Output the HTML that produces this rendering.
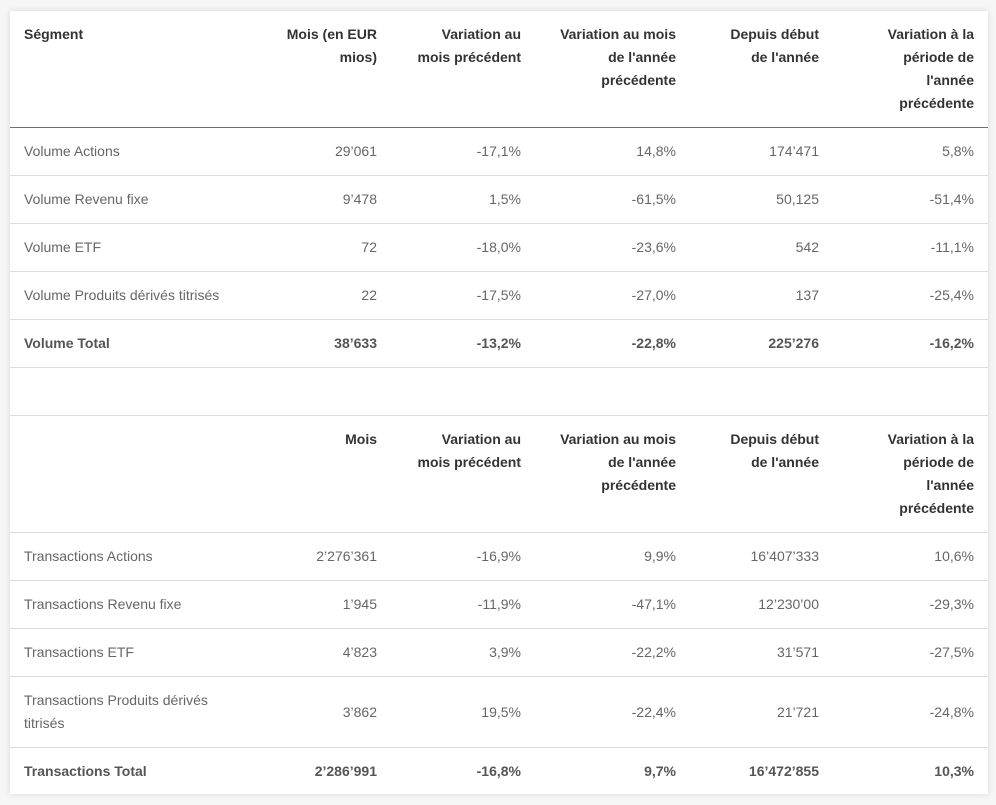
<!DOCTYPE html>
<html><head><meta charset="utf-8"><style>
html,body{margin:0;padding:0;background:#f6f6f6;width:996px;height:805px;overflow:hidden}
.card{position:absolute;left:10px;top:11px;width:978px;height:783px;background:#fff;box-shadow:0 0 6px rgba(0,0,0,0.12)}
table{border-collapse:collapse;table-layout:fixed;width:978px;font-family:"Liberation Sans",sans-serif;font-size:14px;color:#666}
td,th{padding:0 14px;text-align:right;vertical-align:middle;border-bottom:1px solid #ddd;line-height:23px}
td:first-child,th:first-child{text-align:left}
th{font-weight:bold;color:#333;vertical-align:top;padding-top:12px;height:104px;font-size:14px}
tr.h1 th{border-bottom:1px solid #b0583f !important}
tr.r td{height:47px}
tr.r2 td{height:70px}
tr.t td{font-weight:bold;color:#555}
</style></head><body>
<div class="card">
<table>
<colgroup><col style="width:240px"><col style="width:141px"><col style="width:144px"><col style="width:155px"><col style="width:143px"><col style="width:155px"></colgroup>
<tr class="h1"><th>Ségment</th><th>Mois (en EUR<br>mios)</th><th>Variation au<br>mois précédent</th><th>Variation au mois<br>de l'année<br>précédente</th><th>Depuis début<br>de l'année</th><th>Variation à la<br>période de<br>l'année<br>précédente</th></tr>
<tr class="r"><td>Volume Actions</td><td>29’061</td><td>-17,1%</td><td>14,8%</td><td>174’471</td><td>5,8%</td></tr>
<tr class="r"><td>Volume Revenu fixe</td><td>9’478</td><td>1,5%</td><td>-61,5%</td><td>50,125</td><td>-51,4%</td></tr>
<tr class="r"><td>Volume ETF</td><td>72</td><td>-18,0%</td><td>-23,6%</td><td>542</td><td>-11,1%</td></tr>
<tr class="r"><td>Volume Produits dérivés titrisés</td><td>22</td><td>-17,5%</td><td>-27,0%</td><td>137</td><td>-25,4%</td></tr>
<tr class="r t"><td>Volume Total</td><td>38’633</td><td>-13,2%</td><td>-22,8%</td><td>225’276</td><td>-16,2%</td></tr>
<tr class="r"><td></td><td></td><td></td><td></td><td></td><td></td></tr>
<tr><th></th><th>Mois</th><th>Variation au<br>mois précédent</th><th>Variation au mois<br>de l'année<br>précédente</th><th>Depuis début<br>de l'année</th><th>Variation à la<br>période de<br>l'année<br>précédente</th></tr>
<tr class="r"><td>Transactions Actions</td><td>2’276’361</td><td>-16,9%</td><td>9,9%</td><td>16’407’333</td><td>10,6%</td></tr>
<tr class="r"><td>Transactions Revenu fixe</td><td>1’945</td><td>-11,9%</td><td>-47,1%</td><td>12’230’00</td><td>-29,3%</td></tr>
<tr class="r"><td>Transactions ETF</td><td>4’823</td><td>3,9%</td><td>-22,2%</td><td>31’571</td><td>-27,5%</td></tr>
<tr class="r2"><td>Transactions Produits dérivés<br>titrisés</td><td>3’862</td><td>19,5%</td><td>-22,4%</td><td>21’721</td><td>-24,8%</td></tr>
<tr class="r t"><td style="border-bottom:none">Transactions Total</td><td style="border-bottom:none">2’286’991</td><td style="border-bottom:none">-16,8%</td><td style="border-bottom:none">9,7%</td><td style="border-bottom:none">16’472’855</td><td style="border-bottom:none">10,3%</td></tr>
</table>
</div>
</body></html>
